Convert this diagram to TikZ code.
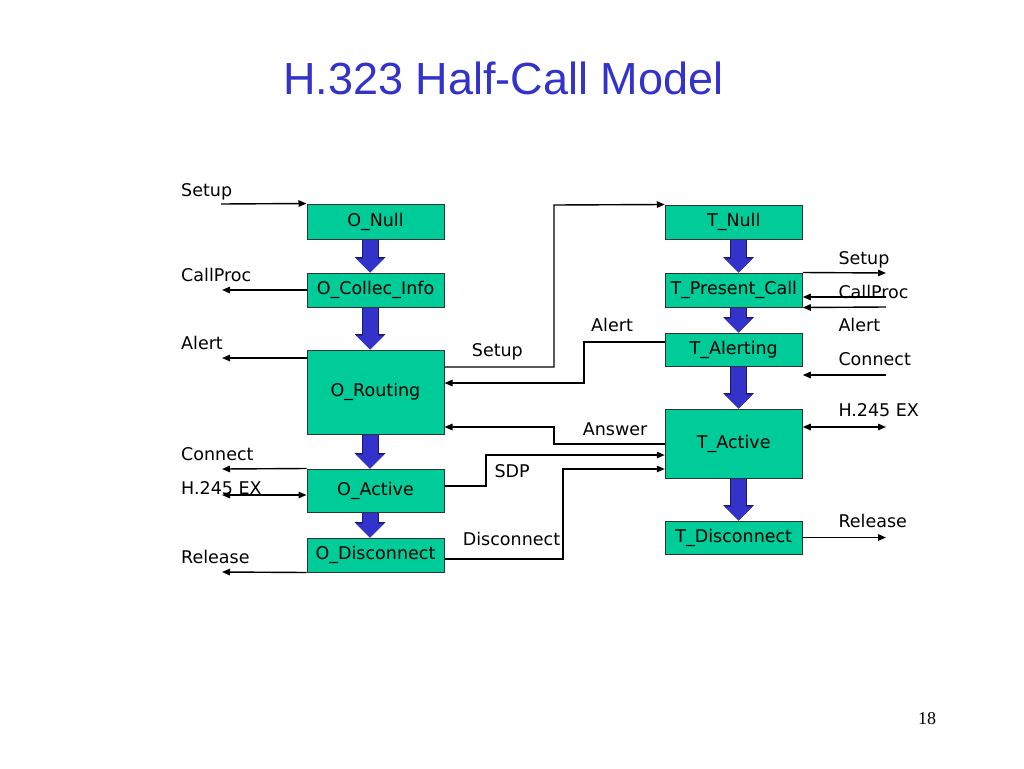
\documentclass[tikz,border=0pt]{standalone}
\usepackage{fontspec}
\setmainfont{DejaVu Sans}
\newfontfamily\titlefont{Liberation Sans}
\newfontfamily\pagefont{Liberation Serif}
\usepackage{xcolor}
\usetikzlibrary{
  positioning,
  arrows.meta
}
\definecolor{boxgreen}{RGB}{0,204,153}
\definecolor{arrowblue}{RGB}{51,51,204}
\definecolor{arrownavy}{RGB}{25,25,110}
\definecolor{titleblue}{RGB}{51,51,204}
\tikzset{
  state/.style={draw=black!80, fill=boxgreen, line width=1pt, minimum width=137, inner sep=0pt, font=\fontsize{17.5}{21}\selectfont, text=black},
  msg/.style={anchor=base west, inner sep=0pt, font=\fontsize{17.5}{21}\selectfont},
  flow/.style={line width=1.4pt},
  trans/.style={draw=arrowblue, line width=15pt, -{Triangle[length=14pt,width=28pt,line width=0pt]},
    preaction={draw=arrownavy, line width=17pt, -{Triangle[length=15.5pt,width=31pt,line width=0pt]}}}
}

\begin{document}
\begin{tikzpicture}[x=1pt,y=-1pt,>={Triangle[length=8pt,width=6.5pt]}]
  \useasboundingbox[fill=white] (0,0) rectangle (1024,768);
  \node[font=\titlefont\fontsize{45}{54}\selectfont, text=titleblue, anchor=base] (title) at (503.5,94) {H.323 Half-Call Model};
  \node[font=\pagefont\fontsize{18}{22}\selectfont, anchor=base, inner sep=0pt] (pagenum) at (927,724) {18};

  % originating half
  \node[state, minimum height=35] (onull) at (375.5,221.5) {O\_Null};
  \node[state, minimum height=34] (ocollec) at (375.5,290) {O\_Collec\_Info};
  \node[state, minimum height=84] (orouting) at (375.5,392) {O\_Routing};
  \node[state, minimum height=43] (oactive) at (375.5,490.5) {O\_Active};
  \node[state, minimum height=34] (odisc) at (375.5,555) {O\_Disconnect};

  % terminating half
  \node[state, minimum height=34] (tnull) at (733.75,222) {T\_Null};
  \node[state, minimum height=34] (tpresent) at (733.75,290) {T\_Present\_Call};
  \node[state, minimum height=33] (talert) at (733.75,349.5) {T\_Alerting};
  \node[state, minimum height=69] (tactive) at (733.75,443.5) {T\_Active};
  \node[state, minimum height=33] (tdisc) at (733.75,537.5) {T\_Disconnect};

  % state transitions
  \draw[trans] ([xshift=-5.5]onull.south) -- ([xshift=-5.5]ocollec.north);
  \draw[trans] ([xshift=-5.5]ocollec.south) -- ([xshift=-5.5]orouting.north);
  \draw[trans] ([xshift=-5.5]orouting.south) -- ([xshift=-5.5]oactive.north);
  \draw[trans] ([xshift=-5.5]oactive.south) -- ([xshift=-5.5]odisc.north);
  \draw[trans] ([xshift=4.75]tnull.south) -- ([xshift=4.75]tpresent.north);
  \draw[trans] ([xshift=4.75]tpresent.south) -- ([xshift=4.75]talert.north);
  \draw[trans] ([xshift=4.75]talert.south) -- ([xshift=4.75]tactive.north);
  \draw[trans] ([xshift=4.75]tactive.south) -- ([xshift=4.75]tdisc.north);

  % left messages
  \coordinate (lSetup) at (221,204);
  \coordinate (lCallProc) at (222,290);
  \coordinate (lAlert) at (222,358);
  \coordinate (lConnect) at (222,469);
  \coordinate (lH245) at (222,495);
  \coordinate (lRelease) at (222,572);
  \draw[flow,->] (lSetup) -- (onull.north west);
  \draw[flow,->] (ocollec.west) -- (lCallProc);
  \draw[flow,->] (orouting.west |- lAlert) -- (lAlert);
  \draw[flow,->] (oactive.north west) -- (lConnect);
  \draw[flow,<->] (lH245) -- (oactive.west |- lH245);
  \draw[flow,->] (odisc.south west) -- (lRelease);
  \node[msg] (lblSetupL) at (181,196) {Setup};
  \node[msg] (lblCallProcL) at (181,281) {CallProc};
  \node[msg] (lblAlertL) at (181,349.3) {Alert};
  \node[msg] (lblConnectL) at (181,460.7) {Connect};
  \node[msg] (lblH245L) at (181,494.3) {H.245 EX};
  \node[msg] (lblReleaseL) at (181,563.3) {Release};

  % messages between the halves
  \draw[flow,->] (orouting.east |- 0,367) -| (554,205) -- (tnull.north west);
  \draw[flow,->] (talert.west |- 0,342) -| (584,383) -- (orouting.east |- 0,383);
  \draw[flow,->] (tactive.west |- 0,444) -| (554,427) -- (orouting.east |- 0,427);
  \draw[flow,->] (oactive.east |- 0,486) -| (486,455) -- (tactive.west |- 0,455);
  \draw[flow,->] (odisc.east |- 0,559) -| (563,469) -- (tactive.west |- 0,469);
  \node[msg] (lblSetupM) at (471.7,356.7) {Setup};
  \node[msg] (lblAlertM) at (591,331.7) {Alert};
  \node[msg] (lblAnswerM) at (582.7,435) {Answer};
  \node[msg] (lblSDPM) at (494.3,477.3) {SDP};
  \node[msg] (lblDiscM) at (462.7,545) {Disconnect};

  % right messages
  \coordinate (rSetup) at (886,273);
  \coordinate (rCallProc) at (886,297);
  \coordinate (rAlert) at (886,307);
  \coordinate (rConnect) at (886,375);
  \coordinate (rH245) at (886,427);
  \coordinate (rRelease) at (886,537.5);
  \draw[flow,->] (tpresent.north east) -- (rSetup);
  \draw[flow,->] (rCallProc) -- (tpresent.east |- rCallProc);
  \draw[flow,->] (rAlert) -- (tpresent.south east);
  \draw[flow,->] (rConnect) -- (talert.east |- rConnect);
  \draw[flow,<->] (tactive.east |- rH245) -- (rH245);
  \draw[flow,->] (tdisc.east) -- (rRelease);
  \node[msg] (lblSetupR) at (838.3,264) {Setup};
  \node[msg] (lblCallProcR) at (838.3,298.3) {CallProc};
  \node[msg] (lblAlertR) at (838.3,331.7) {Alert};
  \node[msg] (lblConnectR) at (838.3,365.7) {Connect};
  \node[msg] (lblH245R) at (838.3,416.7) {H.245 EX};
  \node[msg] (lblReleaseR) at (838.3,527.7) {Release};
\end{tikzpicture}
\end{document}
